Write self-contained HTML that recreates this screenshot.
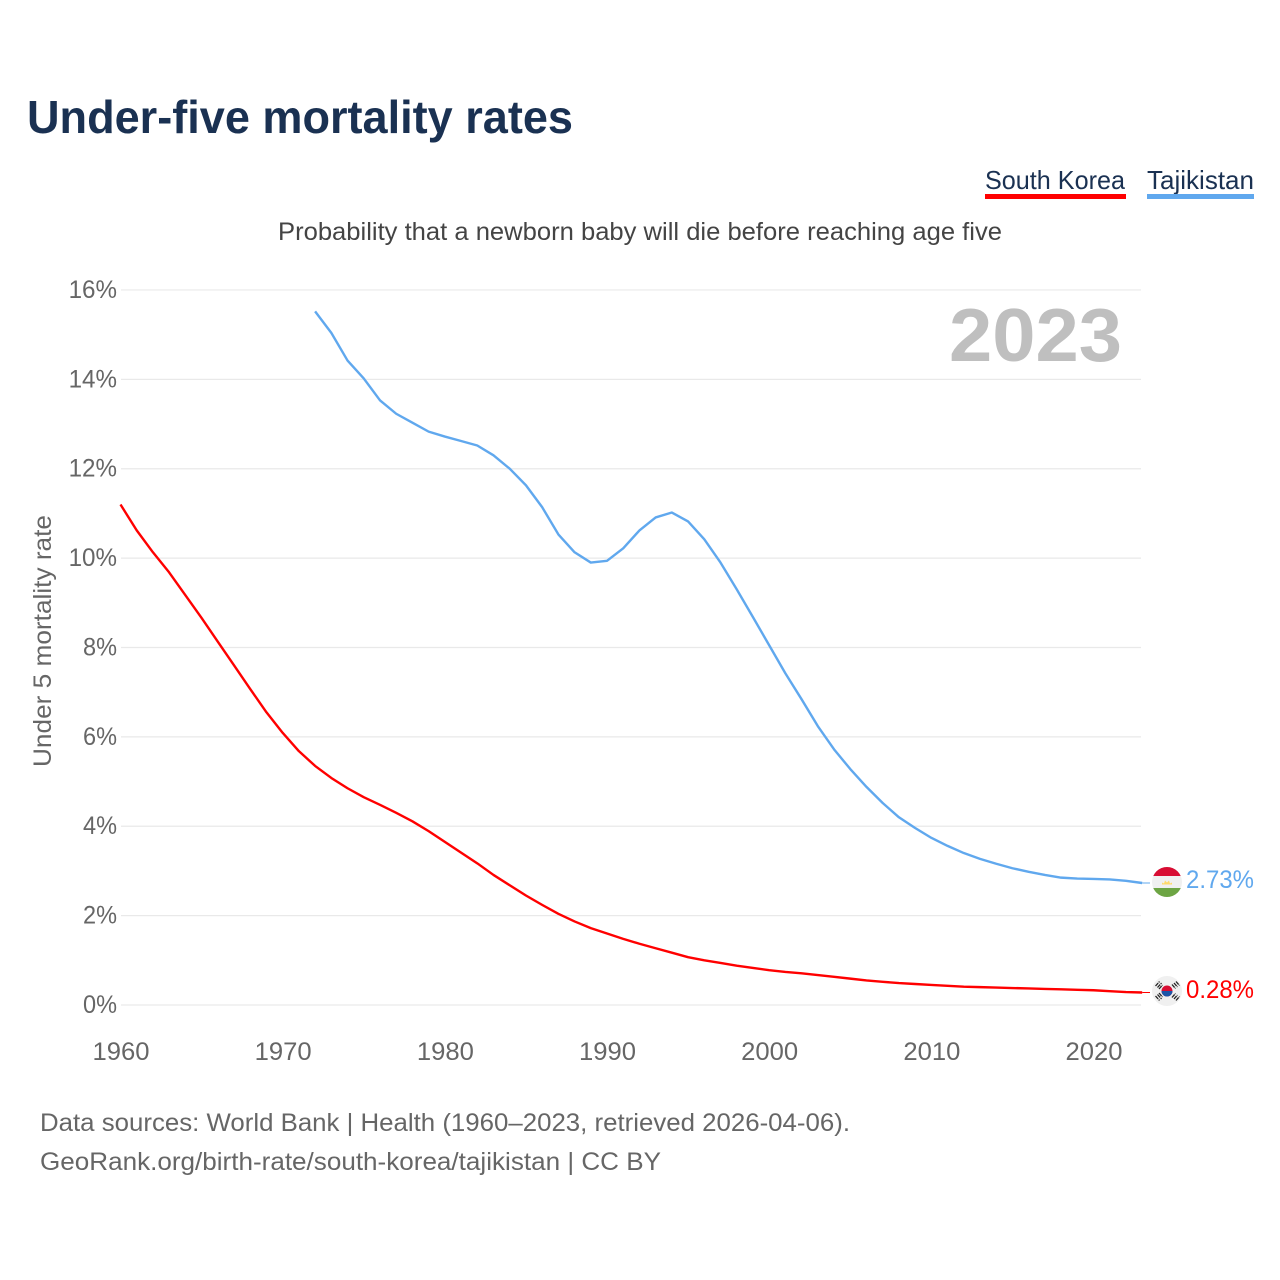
<!DOCTYPE html>
<html lang="en">
<head>
<meta charset="utf-8">
<title>Under-five mortality rates</title>
<style>
html,body{margin:0;padding:0;background:#fff;width:1280px;height:1280px;overflow:hidden}
svg{display:block}
text{font-family:"Liberation Sans",sans-serif}
</style>
</head>
<body>
<svg id="chart" xmlns="http://www.w3.org/2000/svg" width="1280" height="1280" viewBox="0 0 1280 1280">
  <defs>
    <clipPath id="clip-tj"><circle cx="1167" cy="882" r="15"/></clipPath>
    <clipPath id="clip-kr"><circle cx="1167" cy="991" r="15"/></clipPath>
  </defs>
  <rect width="1280" height="1280" fill="#fff"/>
  <text x="27" y="133" font-size="46" font-weight="700" fill="#1a3152" textLength="546" lengthAdjust="spacingAndGlyphs">Under-five mortality rates</text>

  <g>
    <text x="985" y="189" font-size="26" fill="#1a3152" textLength="140" lengthAdjust="spacingAndGlyphs">South Korea</text>
    <rect x="985" y="194" width="141" height="5" fill="#ff0000"/>
  </g>
  <g>
    <text x="1147" y="189" font-size="26" fill="#1a3152" textLength="107" lengthAdjust="spacingAndGlyphs">Tajikistan</text>
    <rect x="1147" y="194" width="107" height="5" fill="#60a8ee"/>
  </g>

  <text x="278" y="240" font-size="25" fill="#444" textLength="724" lengthAdjust="spacingAndGlyphs">Probability that a newborn baby will die before reaching age five</text>
  <text transform="translate(51,767) rotate(-90)" font-size="25" fill="#666" textLength="252" lengthAdjust="spacingAndGlyphs">Under 5 mortality rate</text>

  <g id="grid"></g>
  <g id="ylabels"></g>
  <g id="xlabels"></g>

  <text x="949" y="361" font-size="75" font-weight="700" fill="#bfbfbf" textLength="173" lengthAdjust="spacingAndGlyphs">2023</text>

  <g id="series"></g>

  <g clip-path="url(#clip-tj)">
    <rect x="1152" y="867" width="30" height="30" fill="#f0f0f0"/>
    <rect x="1152" y="867" width="30" height="9" fill="#d80d33"/>
    <rect x="1152" y="888" width="30" height="9" fill="#6da544"/>
    <path d="M1162 884.5h10v-2l-2 1-1-3-2 2-2-2-1 3-2-1z" fill="#ffda6b"/>
  </g>
  <g clip-path="url(#clip-kr)">
    <rect x="1152" y="976" width="30" height="30" fill="#f0f0f0"/>
    <circle cx="1167" cy="991" r="5.5" fill="#d80d33"/>
    <path d="M1161.5 991a5.5 5.500 0 0 0 11 0z" fill="#1c55a8"/>
    <g stroke="#222" stroke-width="1.300" stroke-dasharray="4 .8">
      <path d="M1155.500 986l4-4.500M1157.500 987.500l4-4.500M1159 989l3.500-4"/>
      <path d="M1172 984.500l3.500 4M1174 983l3.500 4M1176 981.500l3.500 4"/>
      <path d="M1155.500 996l4 4.500M1157.500 994.500l4 4.500M1159 993l3.500 4"/>
      <path d="M1172 997.500l3.500-4M1174 999l3.500-4M1176 1000.500l3.500-4"/>
    </g>
  </g>

  <text id="label-tj" x="1186" y="888" font-size="25" fill="#60a8ee" textLength="68" lengthAdjust="spacingAndGlyphs"></text>
  <text id="label-kr" x="1186" y="998" font-size="25" fill="#ff0000" textLength="68" lengthAdjust="spacingAndGlyphs"></text>

  <text x="40" y="1131" font-size="25" fill="#666" textLength="810" lengthAdjust="spacingAndGlyphs">Data sources: World Bank | Health (1960–2023, retrieved 2026-04-06).</text>
  <text x="40" y="1170" font-size="25" fill="#666" textLength="621" lengthAdjust="spacingAndGlyphs">GeoRank.org/birth-rate/south-korea/tajikistan | CC BY</text>
</svg>
<script>
var yTicks = [0, 2, 4, 6, 8, 10, 12, 14, 16];
var xTicks = [1960, 1970, 1980, 1990, 2000, 2010, 2020];
var koreaStartYear = 1960;
var koreaValues = [11.2, 10.62, 10.13, 9.68, 9.17, 8.66, 8.13, 7.6, 7.07, 6.55, 6.09, 5.68, 5.35, 5.08, 4.85, 4.65, 4.48, 4.3, 4.11, 3.89, 3.65, 3.41, 3.17, 2.91, 2.68, 2.45, 2.24, 2.04, 1.87, 1.72, 1.6, 1.48, 1.37, 1.27, 1.17, 1.07, 1.0, 0.94, 0.88, 0.83, 0.78, 0.74, 0.71, 0.67, 0.63, 0.59, 0.55, 0.52, 0.49, 0.47, 0.45, 0.43, 0.41, 0.4, 0.39, 0.38, 0.37, 0.36, 0.35, 0.34, 0.33, 0.31, 0.29, 0.28];
var tajikStartYear = 1972;
var tajikValues = [15.52, 15.04, 14.42, 14.02, 13.53, 13.23, 13.03, 12.83, 12.72, 12.62, 12.52, 12.3, 12.0, 11.63, 11.14, 10.53, 10.13, 9.9, 9.94, 10.22, 10.62, 10.91, 11.02, 10.82, 10.42, 9.9, 9.3, 8.68, 8.05, 7.42, 6.84, 6.24, 5.72, 5.28, 4.88, 4.52, 4.2, 3.96, 3.74, 3.56, 3.4, 3.27, 3.16, 3.06, 2.98, 2.91, 2.85, 2.83, 2.82, 2.81, 2.78, 2.73];

var NS = 'http://www.w3.org/2000/svg';
function xScale(year) { return 120.5 + (year - 1960) * 16.217; }
function yScale(value) { return 1005 - value * 44.69; }

var grid = document.getElementById('grid');
var ylabels = document.getElementById('ylabels');
var xlabels = document.getElementById('xlabels');
var series = document.getElementById('series');

yTicks.forEach(function (t) {
  var line = document.createElementNS(NS, 'line');
  
  
  line.setAttribute('x1', 121);
  line.setAttribute('x2', 1141);
  line.setAttribute('y1', yScale(t));
  line.setAttribute('y2', yScale(t));
  line.setAttribute('stroke', '#e9e9e9');
  line.setAttribute('stroke-width', 1.2);
  grid.appendChild(line);

  var label = document.createElementNS(NS, 'text');
  
  
  var text = t + '%';
  var w = 14.4 * String(t).length + 19.6;
  label.setAttribute('x', 117 - w);
  label.setAttribute('y', yScale(t) + 8);
  label.setAttribute('font-size', 25);
  label.setAttribute('fill', '#666');
  label.setAttribute('textLength', w);
  label.setAttribute('lengthAdjust', 'spacingAndGlyphs');
  label.textContent = text;
  ylabels.appendChild(label);
});

xTicks.forEach(function (t) {
  var label = document.createElementNS(NS, 'text');
  
  
  label.setAttribute('x', xScale(t) - 28);
  label.setAttribute('y', 1060);
  label.setAttribute('font-size', 25);
  label.setAttribute('fill', '#666');
  label.setAttribute('textLength', 57);
  label.setAttribute('lengthAdjust', 'spacingAndGlyphs');
  label.textContent = t;
  xlabels.appendChild(label);
});

function drawSeries(values, startYear, color, name) {
  var pts = values.map(function (v, i) {
    return xScale(startYear + i).toFixed(2) + ',' + yScale(v).toFixed(2);
  });
  var line = document.createElementNS(NS, 'polyline');
  
  
  line.setAttribute('points', pts.join(' '));
  line.setAttribute('fill', 'none');
  line.setAttribute('stroke', color);
  line.setAttribute('stroke-width', 2.4);
  line.setAttribute('stroke-linejoin', 'round');
  series.appendChild(line);

  var lastY = yScale(values[values.length - 1]);
  var conn = document.createElementNS(NS, 'line');
  
  
  conn.setAttribute('x1', xScale(startYear + values.length - 1));
  conn.setAttribute('x2', 1150);
  conn.setAttribute('y1', lastY);
  conn.setAttribute('y2', lastY);
  conn.setAttribute('stroke', color);
  conn.setAttribute('stroke-width', 1);
  series.appendChild(conn);
}
drawSeries(koreaValues, koreaStartYear, '#ff0000', 'line-south-korea');
drawSeries(tajikValues, tajikStartYear, '#60a8ee', 'line-tajikistan');

document.getElementById('label-tj').textContent = tajikValues[tajikValues.length - 1].toFixed(2) + '%';
document.getElementById('label-kr').textContent = koreaValues[koreaValues.length - 1].toFixed(2) + '%';
</script>
</body>
</html>
